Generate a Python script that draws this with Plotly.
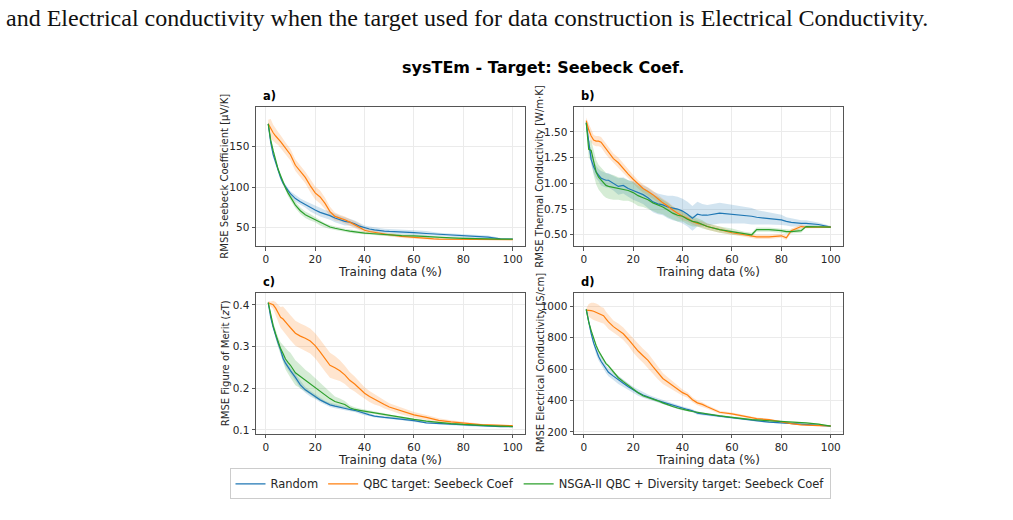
import plotly.graph_objects as go

W, H = 1013, 520

pct = [1, 2, 3, 4, 5, 6, 7, 8, 9, 10, 12, 14, 16, 18, 20, 22, 24, 26, 28, 30, 32, 34, 36, 38, 40,
       42, 44, 46, 48, 50, 55, 60, 65, 68, 70, 75, 80, 82, 84, 88, 90, 95, 100]

# ---- a) Seebeck coefficient ----
a_rand = [178, 155, 140, 130, 120, 112, 105, 100, 96, 92, 86, 82, 79, 75, 72, 69, 67, 65, 62, 60, 58, 57, 55, 52, 50,
          48.5, 47.5, 46.5, 46, 45.5, 45, 44, 43, 42.5, 42, 41, 40, 39.5, 39, 38.5, 38.5, 36.5, 36]
a_rand_sd = [2, 3, 3, 3, 3, 3, 3, 3, 3, 3, 4, 4, 4, 5, 5, 5, 5, 5, 5, 5, 5, 4, 4, 4, 3,
             3, 3, 3, 3, 3, 3, 3, 3, 2, 2, 2, 2, 2, 2, 2, 2, 1, 0.5]
a_qbc = [178, 172, 167, 163, 160, 156, 152, 148, 144, 140, 127, 120, 112, 102, 93, 88, 80, 70, 64, 62, 60, 57, 54, 51, 47,
         45.5, 44.5, 43, 42, 41.5, 39.5, 38, 37, 36.5, 36.2, 36, 35.8, 35.8, 35.7, 35.6, 35.6, 35.5, 35.5]
a_qbc_sd = [5, 12, 10, 9, 8, 8, 7, 7, 7, 7, 7, 7, 7, 8, 8, 8, 7, 6, 5, 4, 4, 4, 4, 4, 3,
            3, 2, 2, 2, 2, 2, 1.5, 1.5, 1, 1, 1, 1, 1, 1, 1, 0.8, 0.5, 0.5]
a_nsga = [178, 158, 145, 133, 122, 114, 106, 99, 93, 88, 78, 71, 66, 63, 60, 56, 53, 51, 49.5, 48, 47, 46, 45, 44, 43.5,
          43, 42.5, 42, 41.5, 41, 40.5, 40, 39, 38.5, 38, 37.5, 37, 37, 36.8, 36.5, 36.4, 36.2, 36]
a_nsga_sd = [2, 3, 3, 3, 3, 3, 3, 3, 4, 4, 4, 4, 4, 4, 3, 3, 2.5, 2.5, 2, 2, 2, 2, 2, 2, 2,
             2, 2, 1.5, 1.5, 1.5, 1.5, 1.5, 1, 1, 1, 1, 1, 1, 1, 1, 1, 0.5, 0.5]

# ---- b) Thermal conductivity ----
b_rand = [1.59, 1.38, 1.23, 1.16, 1.11, 1.08, 1.05, 1.04, 1.03, 1.03, 1.00, 0.97, 0.98, 0.95, 0.93, 0.91, 0.89, 0.86,
          0.82, 0.80, 0.79, 0.77, 0.76, 0.75, 0.73, 0.70, 0.66, 0.70, 0.69, 0.69, 0.71, 0.70, 0.69, 0.68, 0.67, 0.66,
          0.645, 0.63, 0.62, 0.61, 0.61, 0.60, 0.575]
b_rand_sd = [0.02, 0.04, 0.05, 0.06, 0.06, 0.06, 0.07, 0.07, 0.07, 0.07, 0.07, 0.08, 0.08, 0.08, 0.09, 0.09, 0.09, 0.1,
             0.1, 0.1, 0.1, 0.11, 0.12, 0.12, 0.12, 0.12, 0.12, 0.12, 0.11, 0.1, 0.1, 0.09, 0.08, 0.08, 0.07, 0.06,
             0.05, 0.04, 0.04, 0.03, 0.03, 0.02, 0.01]
b_qbc = [1.61, 1.52, 1.46, 1.42, 1.41, 1.41, 1.40, 1.37, 1.33, 1.30, 1.24, 1.20, 1.14, 1.09, 1.04, 0.99, 0.95, 0.92,
         0.89, 0.85, 0.81, 0.78, 0.74, 0.71, 0.68, 0.66, 0.63, 0.61, 0.60, 0.58, 0.55, 0.52, 0.50, 0.49, 0.48, 0.48,
         0.49, 0.47, 0.54, 0.58, 0.575, 0.575, 0.575]
b_qbc_sd = [0.03, 0.06, 0.06, 0.05, 0.05, 0.05, 0.05, 0.05, 0.05, 0.05, 0.05, 0.05, 0.05, 0.04, 0.04, 0.04, 0.04, 0.04,
            0.04, 0.04, 0.04, 0.04, 0.04, 0.04, 0.04, 0.03, 0.03, 0.03, 0.03, 0.03, 0.03, 0.02, 0.02, 0.02, 0.02, 0.02,
            0.02, 0.02, 0.02, 0.02, 0.01, 0.01, 0.01]
b_nsga = [1.59, 1.33, 1.32, 1.20, 1.11, 1.06, 1.03, 1.00, 0.98, 0.97, 0.96, 0.95, 0.94, 0.93, 0.91, 0.88, 0.86, 0.84,
          0.81, 0.79, 0.77, 0.74, 0.71, 0.69, 0.68, 0.65, 0.63, 0.62, 0.60, 0.58, 0.55, 0.53, 0.51, 0.50, 0.55, 0.55,
          0.54, 0.53, 0.53, 0.54, 0.58, 0.58, 0.575]
b_nsga_sd = [0.02, 0.08, 0.1, 0.12, 0.12, 0.12, 0.12, 0.12, 0.12, 0.12, 0.12, 0.11, 0.11, 0.1, 0.1, 0.1, 0.09, 0.09,
             0.08, 0.08, 0.07, 0.07, 0.06, 0.06, 0.05, 0.05, 0.05, 0.04, 0.04, 0.03, 0.03, 0.03, 0.02, 0.02, 0.02, 0.02,
             0.02, 0.02, 0.02, 0.02, 0.01, 0.01, 0.01]

# ---- c) Figure of merit ----
c_rand = [0.405, 0.37, 0.346, 0.325, 0.308, 0.292, 0.272, 0.26, 0.25, 0.242, 0.226, 0.208, 0.196, 0.187, 0.180, 0.172,
          0.165, 0.160, 0.157, 0.154, 0.151, 0.149, 0.147, 0.143, 0.139, 0.136, 0.133, 0.131, 0.130, 0.129, 0.126,
          0.122, 0.117, 0.116, 0.115, 0.113, 0.112, 0.111, 0.110, 0.109, 0.108, 0.108, 0.108]
c_rand_sd = [0.002, 0.004, 0.005, 0.005, 0.006, 0.006, 0.007, 0.008, 0.008, 0.008, 0.008, 0.008, 0.007, 0.007, 0.006,
             0.006, 0.005, 0.005, 0.005, 0.005, 0.004, 0.004, 0.004, 0.004, 0.004, 0.003, 0.003, 0.003, 0.003, 0.003,
             0.003, 0.003, 0.002, 0.002, 0.002, 0.002, 0.002, 0.002, 0.002, 0.002, 0.002, 0.001, 0.001]
c_qbc = [0.405, 0.402, 0.40, 0.392, 0.38, 0.37, 0.366, 0.36, 0.352, 0.345, 0.332, 0.325, 0.32, 0.313, 0.302, 0.287,
         0.27, 0.255, 0.249, 0.242, 0.232, 0.219, 0.21, 0.199, 0.188, 0.18, 0.173, 0.168, 0.161, 0.155, 0.145, 0.136,
         0.13, 0.126, 0.123, 0.119, 0.116, 0.115, 0.114, 0.112, 0.112, 0.111, 0.11]
c_qbc_sd = [0.004, 0.006, 0.01, 0.015, 0.02, 0.025, 0.03, 0.03, 0.03, 0.03, 0.03, 0.03, 0.03, 0.03, 0.03, 0.03, 0.03,
            0.03, 0.028, 0.025, 0.022, 0.02, 0.018, 0.016, 0.014, 0.013, 0.012, 0.011, 0.01, 0.009, 0.008, 0.007,
            0.006, 0.005, 0.005, 0.004, 0.003, 0.003, 0.003, 0.002, 0.002, 0.002, 0.001]
c_nsga = [0.405, 0.375, 0.35, 0.33, 0.31, 0.295, 0.283, 0.27, 0.262, 0.255, 0.237, 0.228, 0.218, 0.21, 0.200, 0.192,
          0.183, 0.175, 0.168, 0.165, 0.161, 0.153, 0.149, 0.147, 0.145, 0.143, 0.141, 0.139, 0.137, 0.134, 0.129,
          0.125, 0.121, 0.119, 0.117, 0.115, 0.113, 0.112, 0.112, 0.111, 0.110, 0.109, 0.108]
c_nsga_sd = [0.002, 0.006, 0.008, 0.01, 0.012, 0.015, 0.02, 0.025, 0.028, 0.03, 0.03, 0.028, 0.026, 0.025, 0.024,
             0.022, 0.02, 0.015, 0.012, 0.01, 0.008, 0.006, 0.005, 0.004, 0.004, 0.004, 0.003, 0.003, 0.003, 0.003,
             0.003, 0.003, 0.002, 0.002, 0.002, 0.002, 0.002, 0.002, 0.002, 0.002, 0.002, 0.001, 0.001]

# ---- d) Electrical conductivity ----
d_rand = [980, 890, 825, 765, 715, 680, 650, 625, 600, 580, 555, 530, 510, 488, 468, 450, 435, 422, 410, 400, 390, 380,
          370, 358, 350, 343, 335, 320, 315, 310, 300, 290, 280, 275, 270, 262, 257, 255, 254, 250, 249, 245, 237]
d_rand_sd = [5, 10, 15, 20, 22, 25, 25, 25, 25, 25, 25, 25, 25, 22, 20, 20, 18, 16, 15, 14, 14, 13, 13, 12, 12, 11, 10,
             10, 9, 8, 7, 7, 6, 6, 6, 5, 5, 5, 5, 5, 5, 4, 3]
d_qbc = [975, 975, 972, 968, 962, 955, 945, 940, 920, 900, 870, 850, 825, 790, 750, 715, 685, 655, 615, 575, 540, 518,
         495, 470, 450, 435, 405, 385, 375, 360, 325, 315, 298, 290, 285, 278, 262, 258, 253, 245, 243, 240, 238]
d_qbc_sd = [10, 40, 50, 55, 55, 55, 50, 50, 45, 45, 40, 40, 40, 40, 45, 45, 45, 45, 45, 40, 35, 30, 25, 22, 20, 18, 16,
            15, 14, 12, 10, 8, 7, 7, 6, 6, 6, 5, 5, 4, 4, 3, 2]
d_nsga = [980, 900, 845, 795, 750, 715, 685, 660, 635, 620, 580, 545, 520, 495, 475, 450, 430, 420, 410, 398, 385, 372,
          362, 352, 343, 337, 330, 325, 318, 312, 302, 293, 282, 278, 276, 272, 267, 265, 263, 260, 258, 250, 237]
d_nsga_sd = [5, 8, 10, 10, 10, 10, 10, 10, 10, 10, 10, 10, 10, 9, 9, 8, 8, 8, 8, 7, 7, 7, 6, 6, 6, 6, 6, 5, 5, 5, 5, 5,
             5, 5, 5, 5, 5, 5, 5, 5, 5, 4, 3]

series_names = ["Random", "QBC target: Seebeck Coef", "NSGA-II QBC + Diversity target: Seebeck Coef"]
panel_letters = ["a)", "b)", "c)", "d)"]
y_titles = ["RMSE Seebeck Coefficient [μV/K]", "RMSE Thermal Conductivity [W/m·K]",
            "RMSE Figure of Merit (<i>z</i>T)", "RMSE Electrical Conductivity [S/cm]"]
x_title = "Training data (%)"
main_title = "sysTEm - Target: Seebeck Coef."
caption_line = "and Electrical conductivity when the target used for data construction is Electrical Conductivity."

panels = [
    [(a_rand, a_rand_sd), (a_qbc, a_qbc_sd), (a_nsga, a_nsga_sd)],
    [(b_rand, b_rand_sd), (b_qbc, b_qbc_sd), (b_nsga, b_nsga_sd)],
    [(c_rand, c_rand_sd), (c_qbc, c_qbc_sd), (c_nsga, c_nsga_sd)],
    [(d_rand, d_rand_sd), (d_qbc, d_qbc_sd), (d_nsga, d_nsga_sd)],
]

line_colors = ["#1f77b4", "#ff7f0e", "#2ca02c"]
fill_colors = ["rgba(31,119,180,0.2)", "rgba(255,127,14,0.2)", "rgba(44,160,44,0.2)"]

# pixel layout of the four plot frames (left, right, top, bottom)
frames = [(256, 525, 108, 248), (574, 843, 108, 248), (256, 525, 295, 437), (574, 843, 295, 437)]
ytitle_x = [225, 540, 225, 540]
y_ranges = [[27.5, 198.5], [0.39, 1.74], [0.091, 0.429], [189, 1086]]
y_dticks = [50, 0.25, 0.1, 200]
y_formats = ["d", ".2f", ".1f", "d"]
x_range = [-3.95, 104.95]

FONT = "DejaVu Sans"
TXT = "#262626"
fig = go.Figure()

for i, panel in enumerate(panels):
    xa = "x" if i == 0 else f"x{i+1}"
    ya = "y" if i == 0 else f"y{i+1}"
    for j, (mean, sd) in enumerate(panel):
        up = [m + s for m, s in zip(mean, sd)]
        lo = [m - s for m, s in zip(mean, sd)]
        fig.add_trace(go.Scatter(
            x=pct + pct[::-1], y=up + lo[::-1], fill="toself", fillcolor=fill_colors[j],
            line=dict(width=0), mode="lines", hoverinfo="skip", showlegend=False,
            xaxis=xa, yaxis=ya))
    for j, (mean, sd) in enumerate(panel):
        fig.add_trace(go.Scatter(
            x=pct, y=mean, mode="lines", line=dict(color=line_colors[j], width=1.2),
            name=series_names[j], showlegend=(i == 0), xaxis=xa, yaxis=ya))

layout = dict(
    width=W, height=H, margin=dict(l=0, r=0, t=0, b=0),
    paper_bgcolor="white", plot_bgcolor="white",
    font=dict(family=FONT, color=TXT, size=11),
    showlegend=True,
)

for i, (l, r, t, b) in enumerate(frames):
    xk = "xaxis" if i == 0 else f"xaxis{i+1}"
    yk = "yaxis" if i == 0 else f"yaxis{i+1}"
    xa = "x" if i == 0 else f"x{i+1}"
    ya = "y" if i == 0 else f"y{i+1}"
    common = dict(showline=True, mirror=True, linecolor="#555555", linewidth=1,
                  showgrid=True, gridcolor="#ebebeb", gridwidth=1, zeroline=False,
                  ticks="outside", ticklen=3.5, tickwidth=0.8, tickcolor="#555555",
                  tickfont=dict(family=FONT, size=10.5, color=TXT))
    layout[xk] = dict(domain=[l / W, r / W], anchor=ya, range=x_range,
                      tickmode="array", tickvals=[0, 20, 40, 60, 80, 100],
                      title=dict(text=x_title, font=dict(family=FONT, size=12, color=TXT), standoff=2),
                      **common)
    layout[yk] = dict(domain=[1 - b / H, 1 - t / H], anchor=xa, range=y_ranges[i],
                      dtick=y_dticks[i], tick0=0, tickformat=y_formats[i],
                      **common)

fig.update_layout(**layout)

annotations = []
for i, (l, r, t, b) in enumerate(frames):
    annotations.append(dict(text="<b>" + panel_letters[i] + "</b>", x=(l + 5) / W, y=1 - (t - 2) / H,
                            xref="paper", yref="paper", xanchor="left", yanchor="bottom", showarrow=False,
                            font=dict(family=FONT, size=11.5, color="black")))
    annotations.append(dict(text=y_titles[i], x=ytitle_x[i] / W, y=1 - ((t + b) / 2) / H,
                            xref="paper", yref="paper", xanchor="center", yanchor="middle",
                            textangle=-90, showarrow=False,
                            font=dict(family=FONT, size=10, color=TXT)))
annotations.append(dict(text="<b>" + main_title + "</b>", x=543 / W, y=1 - 68 / H, xref="paper", yref="paper",
                        xanchor="center", yanchor="middle", showarrow=False,
                        font=dict(family=FONT, size=16, color="black")))
annotations.append(dict(text=caption_line, x=4 / W, y=1 - 18 / H, xref="paper", yref="paper",
                        xanchor="left", yanchor="middle", showarrow=False,
                        font=dict(family="Liberation Serif", size=24, color="#111111")))
fig.update_layout(annotations=annotations)

fig.update_layout(legend=dict(
    orientation="h", x=530 / W, xanchor="center", y=1 - 472 / H, yanchor="top",
    bordercolor="#cccccc", borderwidth=1, bgcolor="white",
    font=dict(family=FONT, size=11.5, color=TXT), itemwidth=30,
    tracegroupgap=0,
))

fig.write_html("out.html")
